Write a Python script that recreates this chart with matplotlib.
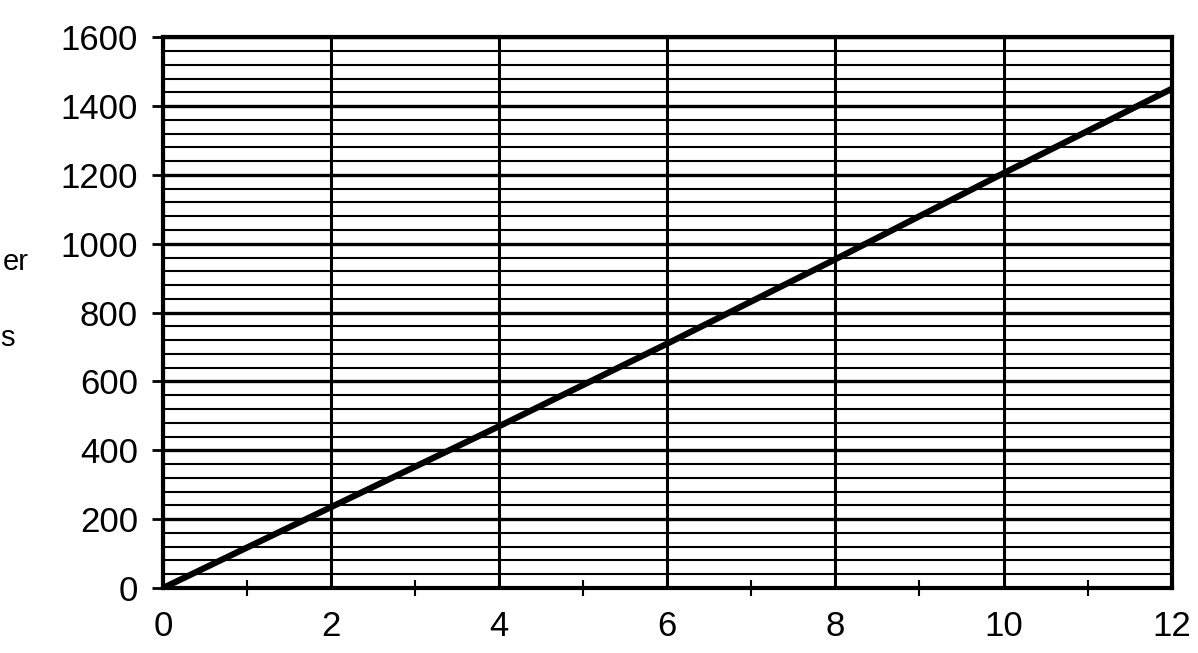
import matplotlib
matplotlib.use("Agg")
import matplotlib.pyplot as plt
from matplotlib.ticker import MultipleLocator

plt.rcParams['font.family'] = ['Liberation Sans', 'DejaVu Sans']

x_vals = [0, 2, 4, 6, 8, 10, 12]
y_vals = [0, 235, 470, 710, 955, 1205, 1450]
x_ticks = [0, 2, 4, 6, 8, 10, 12]
y_ticks = [0, 200, 400, 600, 800, 1000, 1200, 1400, 1600]

fig = plt.figure(figsize=(11.98, 6.53), dpi=100)
ax = fig.add_axes([0.136, 0.0995, 0.842, 0.8435])

ax.set_xlim(0, 12)
ax.set_ylim(0, 1600)
ax.set_xticks(x_ticks)
ax.set_yticks(y_ticks)
ax.xaxis.set_minor_locator(MultipleLocator(1))
ax.yaxis.set_minor_locator(MultipleLocator(40))

ax.grid(which='major', axis='x', color='black', linewidth=2.2)
ax.grid(which='major', axis='y', color='black', linewidth=2.4)
ax.grid(which='minor', axis='y', color='black', linewidth=1.5)

ax.tick_params(axis='x', which='major', length=0, pad=16, labelsize=25)
ax.tick_params(axis='x', which='minor', direction='inout', length=12, width=1.5)
ax.tick_params(axis='y', which='major', direction='out', length=8, width=2, pad=10, labelsize=25)
ax.tick_params(axis='y', which='minor', length=0)

for s in ax.spines.values():
    s.set_linewidth(3)
    s.set_color('black')

ax.plot(x_vals, y_vals, color='black', linewidth=4.5, solid_capstyle='butt')

fig.text(29/1198, 1 - 262/653, 'er', fontsize=21, ha='right', va='center')
fig.text(0.5/1198, 1 - 338/653, 's', fontsize=21, ha='left', va='center')

fig.savefig('out.png', dpi=100)
